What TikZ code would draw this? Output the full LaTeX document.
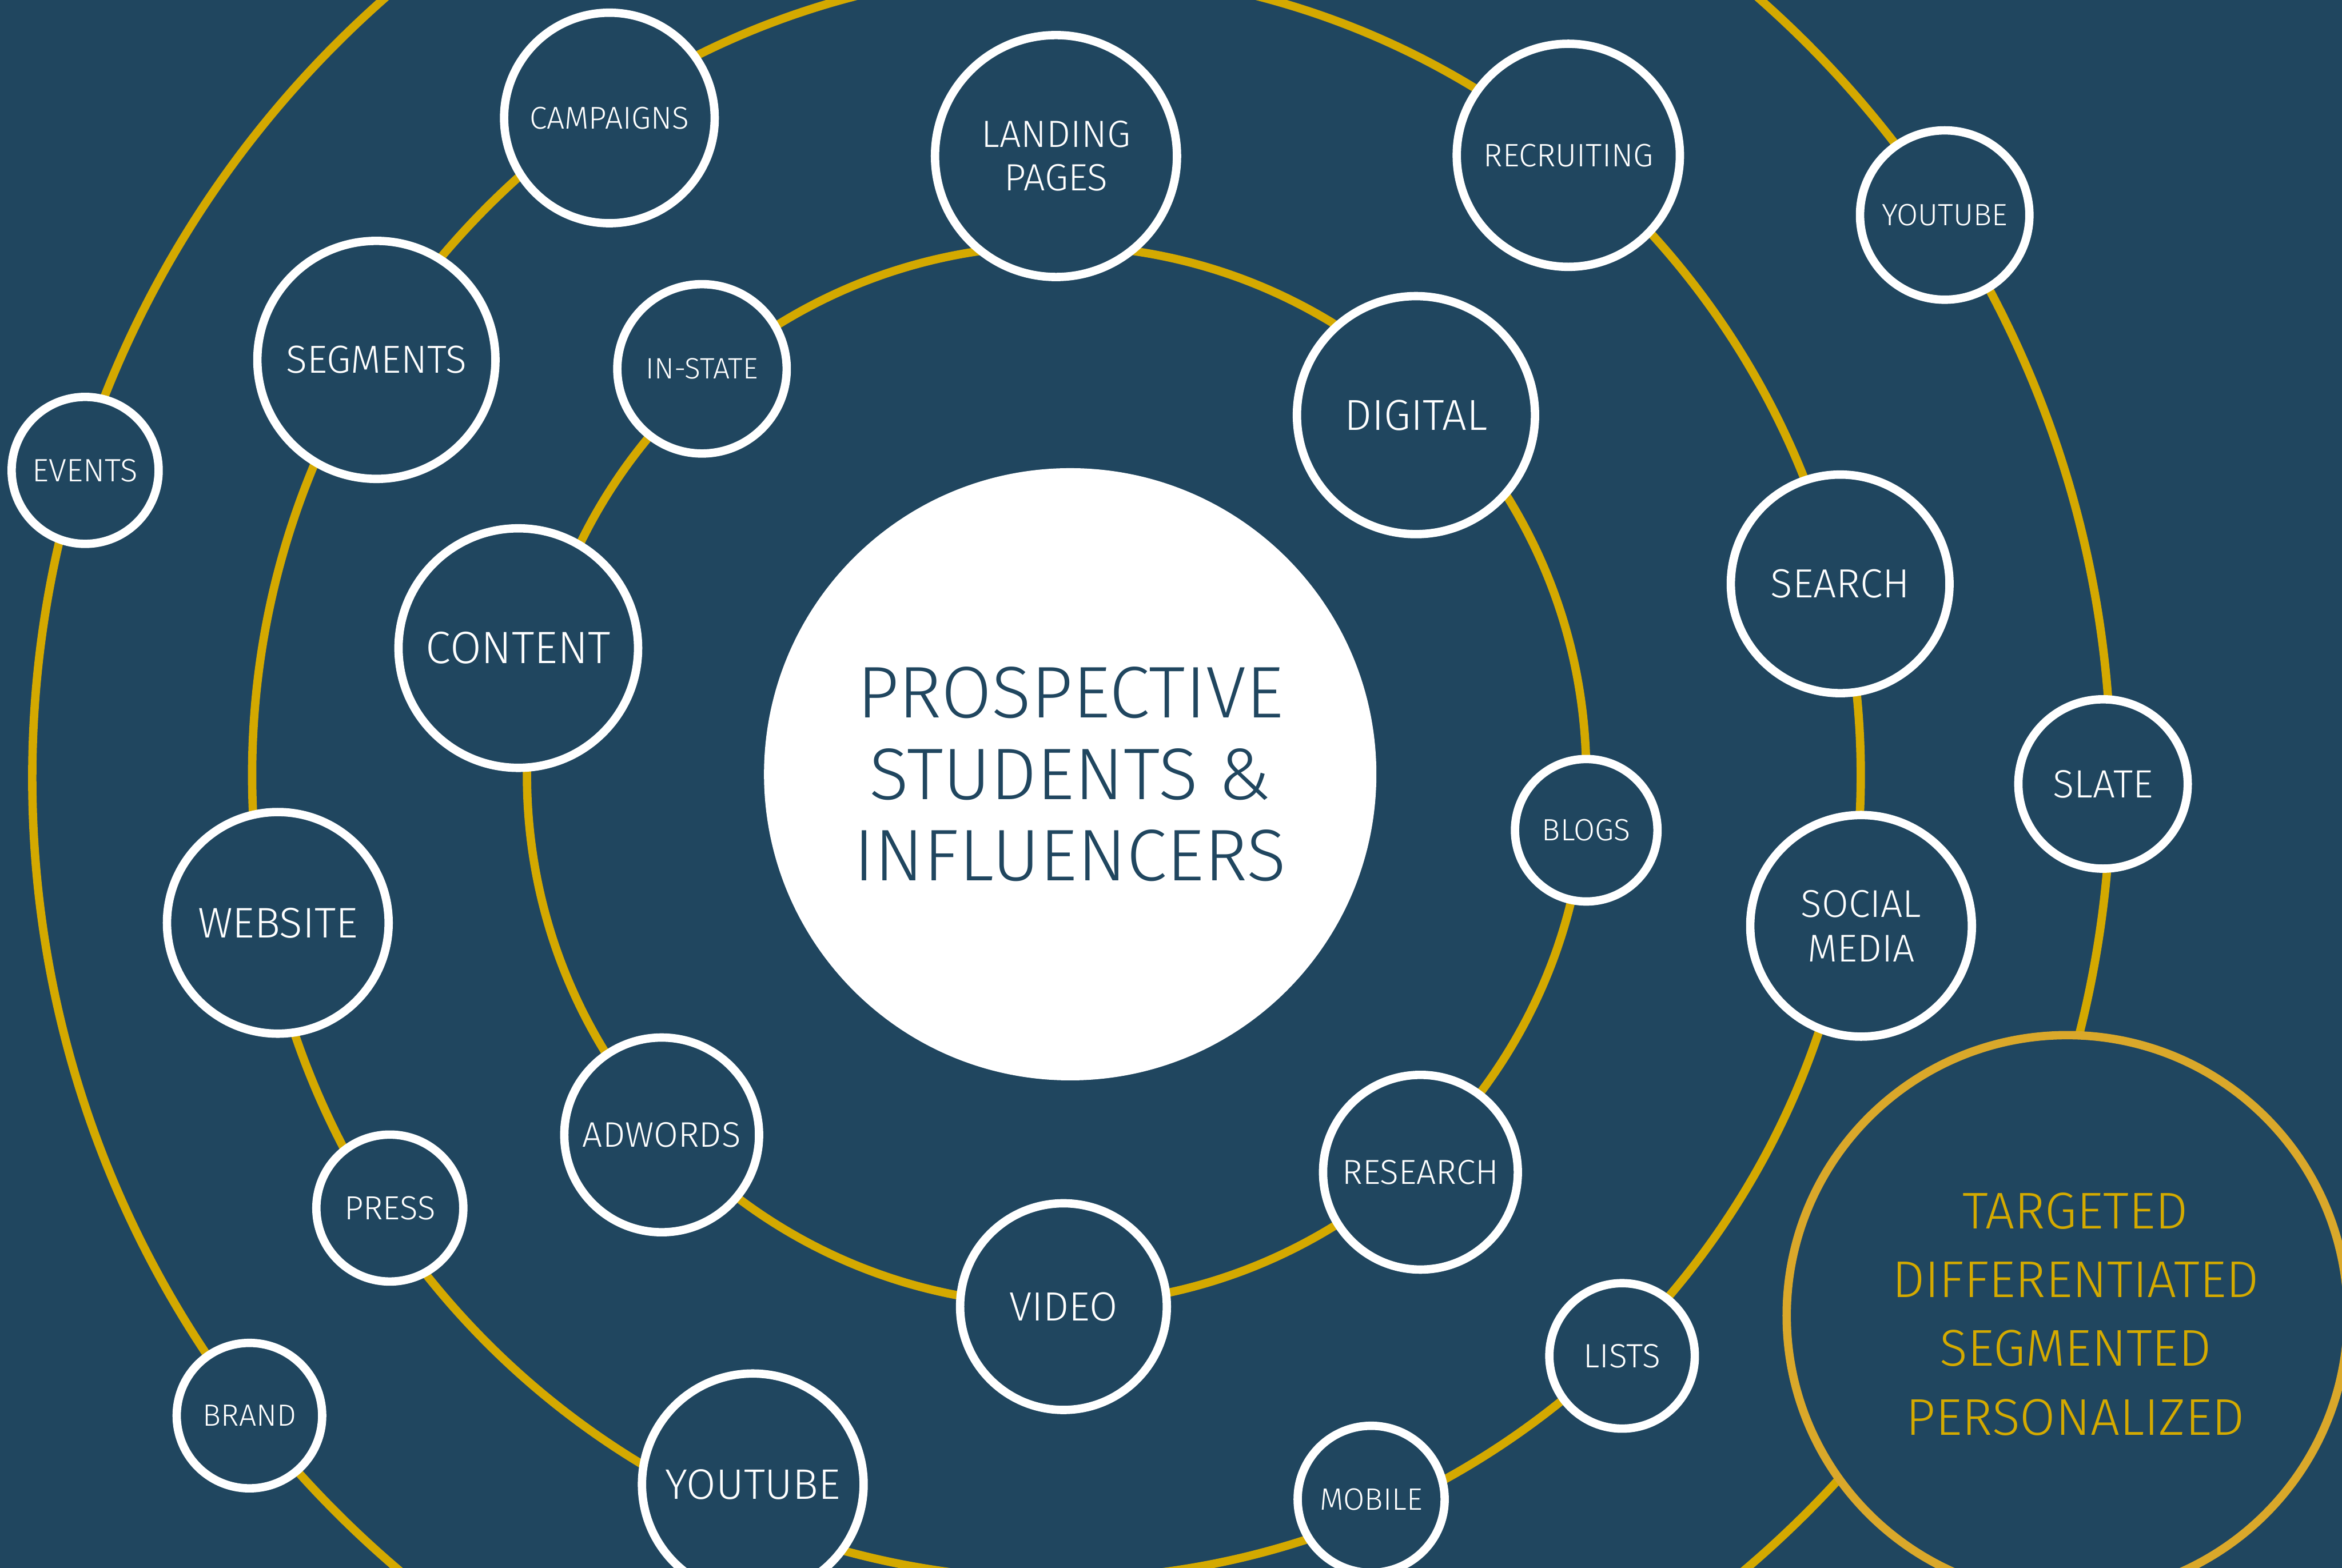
\documentclass[tikz,border=0pt]{standalone}
\usepackage{fontspec}
\setmainfont{Fira Sans}[UprightFont={* Light}]
\definecolor{navy}{HTML}{20465F}
\definecolor{ring}{HTML}{D4A900}
\definecolor{ringbig}{HTML}{DAA82A}
\definecolor{goldtext}{HTML}{D4AA00}
\tikzset{
  orbit/.style={draw=ring, line width=5.6pt},
  bub/.style={circle, draw=white, fill=navy, line width=5.6pt, minimum size=#1,
              inner sep=0pt, text=white, align=center},
}
% font size (slightly enlarged) and line spacing
\newcommand{\fsz}[2]{\fontsize{\fpeval{1.055*#1}}{#2}\selectfont}
\begin{document}
\begin{tikzpicture}[x=1pt, y=-1pt]
  \useasboundingbox (0,0) rectangle (1568,1049.7);
  \clip (0,0) rectangle (1568,1049.7);
  \fill[navy] (-2,-2) rectangle (1570,1052);

  % three orbits
  \draw[orbit] (707.4,519) circle (354.6);
  \draw[orbit] (707.3,519) circle (538.5);
  \draw[orbit] (717.5,521) circle (695.9);

  % hub
  \node[circle, fill=white, minimum size=410pt, inner sep=0pt, text=navy, align=center,
        font=\fsz{46.4}{54.5}] (hub) at (716.5,518.5) {PROSPECTIVE\\STUDENTS \&\\INFLUENCERS};

  % inner orbit
  \node[bub=113.4pt, font=\fsz{18.7}{22}] (instate) at (470,247) {IN-STATE};
  \node[bub=162pt, font=\fsz{24.1}{29}] (landing) at (707,104.5) {LANDING\\PAGES};
  \node[bub=159.4pt, font=\fsz{27.5}{32}] (digital) at (948,278) {DIGITAL};
  \node[bub=95.4pt, font=\fsz{19.5}{23}] (blogs) at (1062,556) {BLOGS};
  \node[bub=130.4pt, font=\fsz{22}{26}] (research) at (951,785) {RESEARCH};
  \node[bub=138.4pt, font=\fsz{25.9}{30}] (video) at (712,875) {VIDEO};
  \node[bub=130.4pt, font=\fsz{22.5}{27}] (adwords) at (443,760) {ADWORDS};
  \node[bub=160.4pt, font=\fsz{28.8}{33}] (content) at (347,434) {CONTENT};

  % middle orbit
  \node[bub=141pt, font=\fsz{20}{24}] (campaigns) at (408,79) {CAMPAIGNS};
  \node[bub=149.4pt, font=\fsz{20.6}{24}] (recruiting) at (1050,104) {RECRUITING};
  \node[bub=159.4pt, font=\fsz{24.8}{29}] (segments) at (252,241) {SEGMENTS};
  \node[bub=146.4pt, font=\fsz{25.8}{30}] (search) at (1232,391) {SEARCH};
  \node[bub=148.4pt, font=\fsz{24.6}{30}] (social) at (1246,620) {SOCIAL\\MEDIA};
  \node[bub=148.4pt, font=\fsz{27.2}{32}] (website) at (186,618) {WEBSITE};
  \node[bub=98.4pt, font=\fsz{21.2}{25}] (press) at (261,809) {PRESS};
  \node[bub=97.4pt, font=\fsz{21.4}{25}] (lists) at (1086,908) {LISTS};
  \node[bub=148.4pt, font=\fsz{27.1}{32}] (ytlow) at (504,994) {YOUTUBE};
  \node[bub=98.4pt, font=\fsz{19.6}{23}] (mobile) at (918,1004) {MOBILE};

  % outer orbit
  \node[bub=113.4pt, font=\fsz{19.5}{23}] (ytup) at (1302,144) {YOUTUBE};
  \node[bub=98.4pt, font=\fsz{20.5}{24}] (events) at (57,315) {EVENTS};
  \node[bub=113.4pt, font=\fsz{25}{29}] (slate) at (1408,525) {SLATE};
  \node[bub=97.4pt, font=\fsz{19.4}{23}] (brand) at (167,948) {BRAND};

  % summary badge
  \node[circle, draw=ringbig, fill=navy, line width=5.6pt, minimum size=375.6pt, inner sep=0pt]
        (badge) at (1384,881) {};
  \node[text=goldtext, align=center, font=\fsz{32.8}{46}] (badgetext) at (1389.5,880)
        {TARGETED\\DIFFERENTIATED\\SEGMENTED\\PERSONALIZED};
\end{tikzpicture}
\end{document}
